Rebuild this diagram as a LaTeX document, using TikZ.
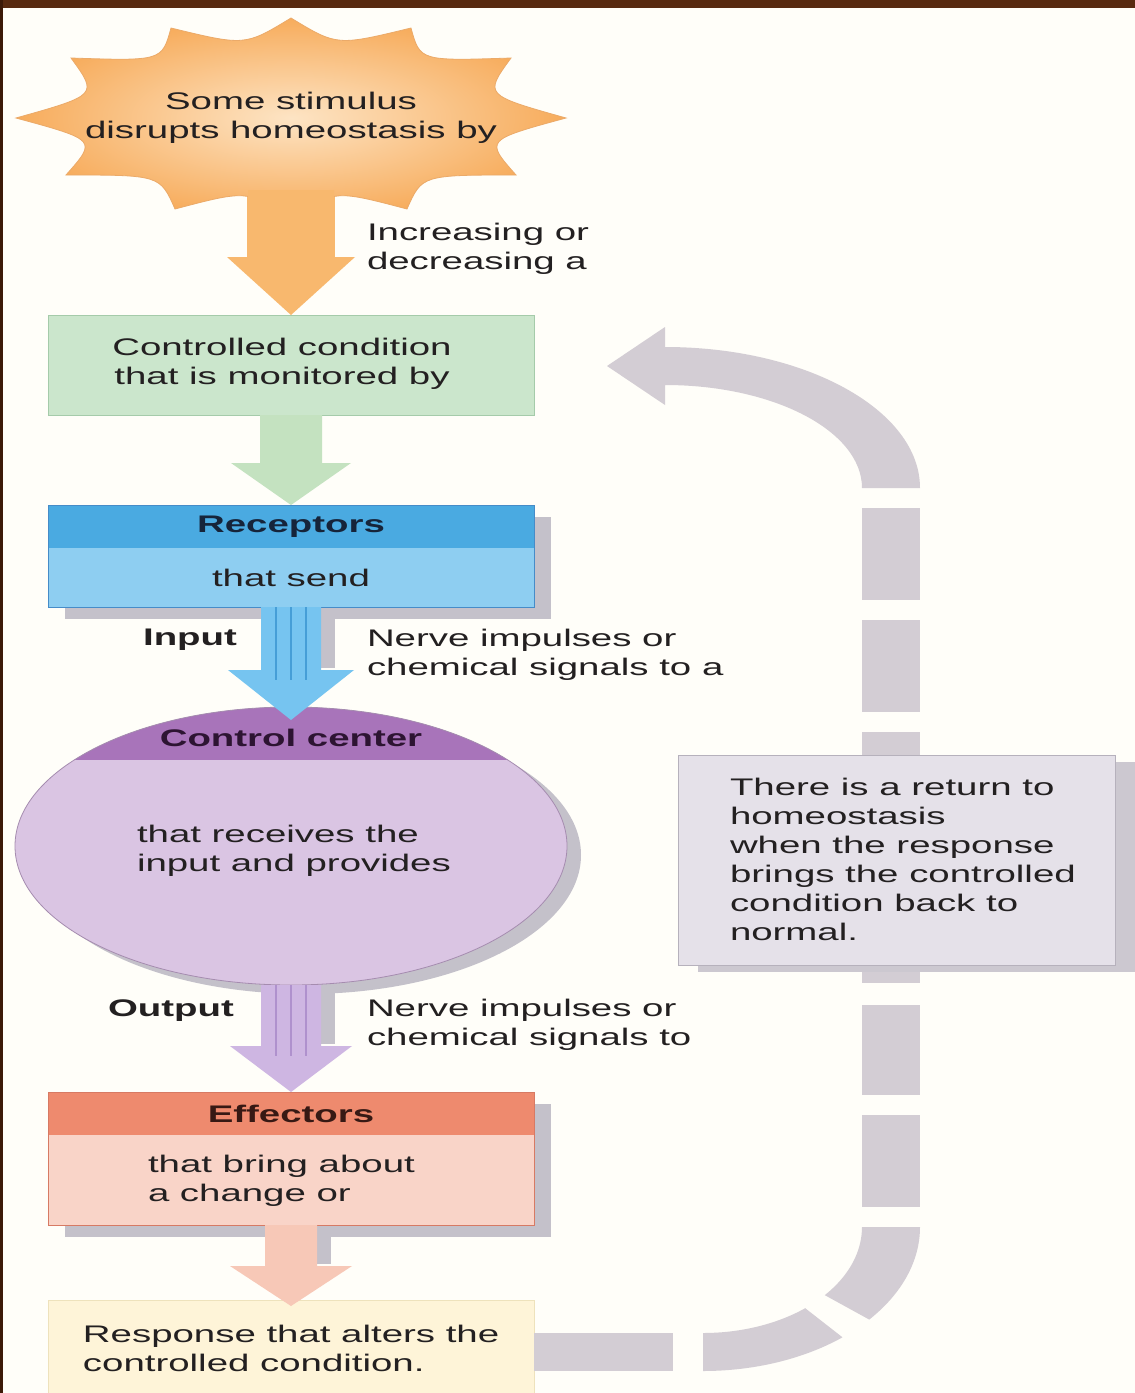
\documentclass[tikz,border=0pt]{standalone}
\usepackage{fontspec}
\setmainfont{Liberation Sans}[FakeStretch=1.6]
\usetikzlibrary{calc,shapes.geometric,shadows}
\definecolor{paper}{RGB}{255,254,249}
\definecolor{wood}{RGB}{88,42,16}
\definecolor{wooddark}{RGB}{60,26,8}
\definecolor{ink}{RGB}{35,32,33}
\definecolor{starin}{RGB}{253,228,196}
\definecolor{starout}{RGB}{247,172,92}
\definecolor{starline}{RGB}{235,170,105}
\definecolor{orangearr}{RGB}{248,184,110}
\definecolor{condfill}{RGB}{203,230,204}
\definecolor{condline}{RGB}{165,203,170}
\definecolor{greenarr}{RGB}{196,226,192}
\definecolor{rechead}{RGB}{74,170,225}
\definecolor{recbody}{RGB}{142,206,241}
\definecolor{recline}{RGB}{70,140,200}
\definecolor{rectext}{RGB}{22,36,58}
\definecolor{bluearr}{RGB}{118,196,240}
\definecolor{bluestripe}{RGB}{70,158,215}
\definecolor{cchead}{RGB}{168,116,186}
\definecolor{ccbody}{RGB}{218,197,227}
\definecolor{ccline}{RGB}{165,140,175}
\definecolor{cctext}{RGB}{45,20,50}
\definecolor{purparr}{RGB}{206,182,226}
\definecolor{purpstripe}{RGB}{175,145,205}
\definecolor{effhead}{RGB}{238,138,110}
\definecolor{effbody}{RGB}{249,212,200}
\definecolor{effline}{RGB}{215,122,100}
\definecolor{efftext}{RGB}{55,25,20}
\definecolor{pinkarr}{RGB}{247,200,183}
\definecolor{respfill}{RGB}{254,244,216}
\definecolor{respline}{RGB}{238,226,188}
\definecolor{shadowgray}{RGB}{196,193,202}
\definecolor{fb}{RGB}{211,205,212}
\definecolor{retfill}{RGB}{229,225,233}
\definecolor{retline}{RGB}{182,177,188}
\definecolor{retshadow}{RGB}{204,200,208}
\newcommand\blockarrow[6]{%
  \fill[#6] ($(#1)+(-#3,0)$) -- ($(#1)+(#3,0)$) -- ($(#2)+(#3,-#5)$) -- ($(#2)+(#4,-#5)$) -- (#2) -- ($(#2)+(-#4,-#5)$) -- ($(#2)+(-#3,-#5)$) -- cycle;}
\begin{document}
\begin{tikzpicture}[x=0.5pt,y=-0.5pt,
  txt/.style={inner sep=0pt, outer sep=0pt, text=ink, font=\fontsize{12}{14.5}\selectfont, align=left},
  ctxt/.style={txt, align=center},
  hdr/.style={txt, font=\fontsize{12}{14.5}\selectfont\bfseries},
  box/.style={rectangle, inner sep=0pt, outer sep=0pt, anchor=north west},
  boxshadow/.style={drop shadow={shadow xshift=8.5pt, shadow yshift=-6pt, fill=shadowgray, opacity=1}}]
\useasboundingbox (0,0) rectangle (1135,1393);
% background and frame
\fill[paper] (0,0) rectangle (1135,1393);
\fill[wood] (0,0) rectangle (1135,8);
\fill[wooddark] (0,0) rectangle (3,1393);
% stimulus starburst
\coordinate (star) at (291,118);
\fill[orangearr] (247,180) rectangle (335,262);
\path[draw=starline, line width=0.4pt, inner color=starin, outer color=starout]
  (291,18) .. controls (337,46) .. (411,28)
  .. controls (420,61) .. (511,58)
  .. controls (484,95) .. (566,118)
  .. controls (485,140) .. (516,175)
  .. controls (422,175) .. (407,209)
  .. controls (335,190) .. (291,218)
  .. controls (247,190) .. (175,209)
  .. controls (160,175) .. (66,175)
  .. controls (97,140) .. (16,118)
  .. controls (98,95) .. (71,58)
  .. controls (162,61) .. (171,28)
  .. controls (245,46) .. (291,18) -- cycle;
\node[ctxt] (stimtxt) at (star) {Some stimulus\\disrupts homeostasis by};
\coordinate (starbase) at (291,190);
% controlled condition
\node[box, fill=condfill, draw=condline, minimum width=243pt, minimum height=50pt] (cond) at (48,315) {};
\blockarrow{starbase}{cond.north}{43}{64}{58}{orangearr}
\node[txt, anchor=west] (inctxt) at (367,249) {Increasing or\\decreasing a};
\node[ctxt] (condtxt) at (282,364) {Controlled condition\\that is monitored by};
% receptors
\node[box, fill=recbody, draw=recline, minimum width=243pt, minimum height=51pt, boxshadow] (rec) at (48,505) {};
\blockarrow{cond.south}{rec.north}{31}{60}{42}{greenarr}
\fill[rechead] (rec.north west) rectangle ($(rec.north east)+(0,43)$);
\draw[recline] (rec.north west) rectangle (rec.south east);
\node[hdr, text=rectext] (rectitle) at (291,527) {Receptors};
\node[ctxt] (recsub) at (291,578) {that send};
% control center
\node[ellipse, minimum width=276pt, minimum height=139pt, inner sep=0pt, outer sep=0pt, fill=ccbody,
  drop shadow={shadow xshift=7pt, shadow yshift=-4.5pt, fill=shadowgray, opacity=1}] (cc) at (291,846) {};
\begin{scope}
  \clip (cc.center) ellipse [x radius=276, y radius=139];
  \fill[cchead] (0,690) rectangle (600,760);
\end{scope}
\draw[ccline] (cc.center) ellipse [x radius=276, y radius=139];
\coordinate (ccin) at ($(cc.north)+(0,13)$);
\fill[shadowgray] ($(rec.south)+(30,10)$) rectangle ($(ccin)+(44,-52)$);
\blockarrow{rec.south}{ccin}{30}{63}{50}{bluearr}
\foreach \dx in {-15,0,15}
  \draw[bluestripe, line width=1pt] ($(rec.south)+(\dx,0)$) -- ($(ccin)+(\dx,-40)$);
\node[hdr] (input) at (190,640) {Input};
\node[txt, anchor=west] (intxt) at (367,655) {Nerve impulses or\\chemical signals to a};
\node[hdr, text=cctext] (cctitle) at (291,738) {Control center};
\node[txt, anchor=west] (cctxt) at (137,851) {that receives the\\input and provides};
% effectors
\node[box, fill=effbody, draw=effline, minimum width=243pt, minimum height=66.5pt, boxshadow] (eff) at (48,1092) {};
\fill[shadowgray] ($(cc.south)+(30,8)$) rectangle ($(eff.north)+(44,-48)$);
\blockarrow{cc.south}{eff.north}{30}{61}{46}{purparr}
\foreach \dx in {-15,0,15}
  \draw[purpstripe, line width=1pt] ($(cc.south)+(\dx,0)$) -- ($(eff.north)+(\dx,-36)$);
\fill[effhead] (eff.north west) rectangle ($(eff.north east)+(0,43)$);
\draw[effline] (eff.north west) rectangle (eff.south east);
\node[hdr] (output) at (171,1011) {Output};
\node[txt, anchor=west] (outtxt) at (367,1025) {Nerve impulses or\\chemical signals to};
\node[hdr, text=efftext] (efftitle) at (291,1114) {Effectors};
\node[txt, anchor=west] (efftxt) at (148,1181) {that bring about\\a change or};
% response
\node[box, fill=respfill, draw=respline, minimum width=243pt, minimum height=52pt] (resp) at (48,1300) {};
\coordinate (respin) at ($(resp.north)+(0,6)$);
\fill[shadowgray] ($(eff.south)+(26,6)$) rectangle ($(respin)+(40,-42)$);
\blockarrow{eff.south}{respin}{26}{61}{40}{pinkarr}
\node[txt, anchor=west] (resptxt) at (83,1348) {Response that alters the\\controlled condition.};
% feedback loop (dashed grey block arrow)
\coordinate (loopbot) at (703,1227);
\fill[fb] (665,347) arc[start angle=-90, end angle=0, x radius=255, y radius=141]
  -- (862,488) arc[start angle=0, end angle=-90, x radius=197, y radius=103]
  -- (665,405) -- (607,366) -- (665,327) -- cycle;
\fill[fb] (862,508) rectangle (920,600);
\fill[fb] (862,620) rectangle (920,712);
\fill[fb] (862,732) rectangle (920,983);
\fill[fb] (862,1005) rectangle (920,1095);
\fill[fb] (862,1115) rectangle (920,1207);
\fill[fb] (862,1227) -- (920,1227) arc[start angle=0, end angle=40, x radius=217, y radius=144]
  -- ($(loopbot)+(40:159 and 106)$) arc[start angle=40, end angle=0, x radius=159, y radius=106] -- cycle;
\fill[fb] ($(loopbot)+(50:217 and 144)$) arc[start angle=50, end angle=90, x radius=217, y radius=144]
  -- (703,1333) arc[start angle=90, end angle=50, x radius=159, y radius=106] -- cycle;
\fill[fb] (resp.east |- 0,1333) rectangle (673,1371);
% return box
\node[box, fill=retfill, draw=retline, minimum width=218.5pt, minimum height=105pt,
  drop shadow={shadow xshift=10pt, shadow yshift=-3.5pt, fill=retshadow, opacity=1}] (ret) at (678,755) {};
\node[txt, anchor=west] (rettxt) at (730,859) {There is a return to\\homeostasis\\when the response\\brings the controlled\\condition back to\\normal.};
\end{tikzpicture}
\end{document}
